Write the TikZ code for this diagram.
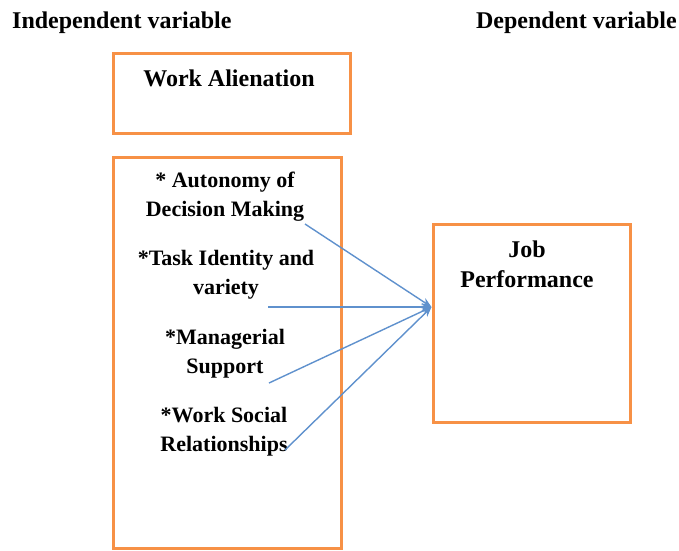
\documentclass[tikz,border=0pt]{standalone}
\usepackage{fontspec}
\setmainfont{Liberation Serif}
\usepackage{tikz}
\usetikzlibrary{arrows.meta}
\usetikzlibrary{positioning}

\definecolor{boxorange}{RGB}{247,145,70}
\definecolor{linkblue}{RGB}{95,145,205}

\begin{document}
\begin{tikzpicture}[x=1pt, y=-1pt,
  frame/.style={draw=boxorange, line width=3pt, inner sep=0pt},
  headtext/.style={font=\fontsize{24}{30}\selectfont\bfseries, inner sep=0pt, align=center},
  factor/.style={font=\fontsize{22}{29}\selectfont\bfseries, inner sep=0pt, align=center},
  link/.style={draw=linkblue, line width=1.4pt, -{Stealth[length=10pt, width=8pt]}}]
\useasboundingbox (0,0) rectangle (679,550);
% headings
\node[headtext, anchor=west] (indep) at (12,23) {Independent variable};
\node[headtext, anchor=east] (dep) at (677,23) {Dependent variable};
% boxes
\node[frame, minimum width=237pt, minimum height=80pt] (alienation) at (231.5,93) {};
\node[frame, minimum width=228pt, minimum height=391pt] (dims) at (227,352.5) {};
\node[frame, minimum width=197pt, minimum height=198pt] (job) at (531.5,323) {};
\node[headtext] (alientext) at (229,78) {Work Alienation};
\node[headtext] (jobtext) at (527,264) {Job\\Performance};
% dimensions of alienation
\node[factor] (autonomy) at (225,197) {* Autonomy of\\Decision Making};
\node[factor] (task) at (226,275) {*Task Identity and\\variety};
\node[factor] (support) at (225,354) {*Managerial\\Support};
\node[factor] (social) at (224,432) {*Work Social\\Relationships};
% links
\coordinate (autonomyend) at (305,224);
\coordinate (taskend) at (268,307);
\coordinate (supportend) at (269,383);
\coordinate (socialend) at (285,450);
\coordinate (jobin) at ([yshift=16pt]job.west);
\draw[link] (autonomyend) -- (jobin);
\draw[link] (taskend) -- (jobin);
\draw[link] (supportend) -- (jobin);
\draw[link] (socialend) -- (jobin);
\end{tikzpicture}
\end{document}
